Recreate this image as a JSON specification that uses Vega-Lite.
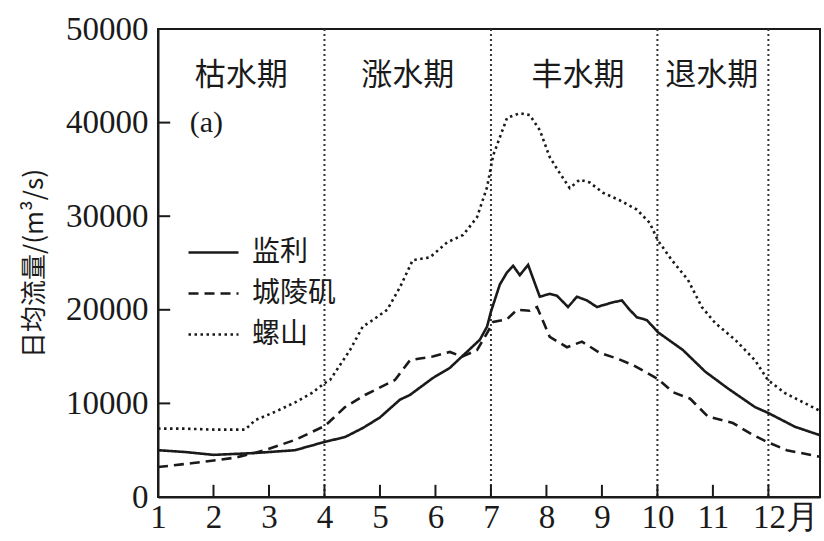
{
  "$schema": "https://vega.github.io/schema/vega-lite/v6.json",
  "width": 662,
  "height": 468,
  "autosize": {"type": "none"},
  "padding": {"left": 158, "top": 29, "right": 4, "bottom": 44},
  "background": "white",
  "config": {
    "view": {"stroke": "#1a1a1a", "strokeWidth": 2},
    "axis": {
      "domainColor": "#1a1a1a", "domainWidth": 2, "ticks": false,
      "labelColor": "#1a1a1a", "labelFont": "Liberation Serif", "labelFontSize": 33, "grid": false
    }
  },
  "datasets": {
    "flow": [
      {"station": "监利", "m": 1.0, "q": 5000}, {"station": "监利", "m": 1.5, "q": 4800}, {"station": "监利", "m": 2.0, "q": 4500},
      {"station": "监利", "m": 2.75, "q": 4700}, {"station": "监利", "m": 3.47, "q": 5000}, {"station": "监利", "m": 4.01, "q": 5900},
      {"station": "监利", "m": 4.37, "q": 6400}, {"station": "监利", "m": 4.7, "q": 7400}, {"station": "监利", "m": 5.0, "q": 8500},
      {"station": "监利", "m": 5.36, "q": 10400}, {"station": "监利", "m": 5.54, "q": 10900}, {"station": "监利", "m": 5.95, "q": 12700},
      {"station": "监利", "m": 6.26, "q": 13800}, {"station": "监利", "m": 6.44, "q": 14800}, {"station": "监利", "m": 6.8, "q": 16800},
      {"station": "监利", "m": 6.93, "q": 18200}, {"station": "监利", "m": 7.0, "q": 19800}, {"station": "监利", "m": 7.16, "q": 22700},
      {"station": "监利", "m": 7.29, "q": 24000}, {"station": "监利", "m": 7.4, "q": 24700}, {"station": "监利", "m": 7.52, "q": 23700},
      {"station": "监利", "m": 7.67, "q": 24800}, {"station": "监利", "m": 7.75, "q": 23500}, {"station": "监利", "m": 7.88, "q": 21400},
      {"station": "监利", "m": 8.06, "q": 21700}, {"station": "监利", "m": 8.19, "q": 21500}, {"station": "监利", "m": 8.39, "q": 20300},
      {"station": "监利", "m": 8.55, "q": 21400}, {"station": "监利", "m": 8.73, "q": 21000}, {"station": "监利", "m": 8.91, "q": 20300},
      {"station": "监利", "m": 9.2, "q": 20800}, {"station": "监利", "m": 9.36, "q": 21000}, {"station": "监利", "m": 9.5, "q": 20000},
      {"station": "监利", "m": 9.63, "q": 19200}, {"station": "监利", "m": 9.81, "q": 18900}, {"station": "监利", "m": 10.01, "q": 17600},
      {"station": "监利", "m": 10.46, "q": 15700}, {"station": "监利", "m": 10.86, "q": 13400}, {"station": "监利", "m": 11.27, "q": 11600},
      {"station": "监利", "m": 11.76, "q": 9600}, {"station": "监利", "m": 11.99, "q": 9000}, {"station": "监利", "m": 12.48, "q": 7500},
      {"station": "监利", "m": 12.93, "q": 6600},
      {"station": "城陵矶", "m": 1.0, "q": 3200}, {"station": "城陵矶", "m": 1.6, "q": 3600}, {"station": "城陵矶", "m": 2.39, "q": 4200},
      {"station": "城陵矶", "m": 2.93, "q": 5000}, {"station": "城陵矶", "m": 3.47, "q": 6100}, {"station": "城陵矶", "m": 4.01, "q": 7600},
      {"station": "城陵矶", "m": 4.37, "q": 9600}, {"station": "城陵矶", "m": 4.73, "q": 10900}, {"station": "城陵矶", "m": 5.27, "q": 12500},
      {"station": "城陵矶", "m": 5.54, "q": 14600}, {"station": "城陵矶", "m": 5.72, "q": 14800}, {"station": "城陵矶", "m": 5.95, "q": 15000},
      {"station": "城陵矶", "m": 6.26, "q": 15500}, {"station": "城陵矶", "m": 6.48, "q": 15000}, {"station": "城陵矶", "m": 6.75, "q": 15700},
      {"station": "城陵矶", "m": 6.93, "q": 17500}, {"station": "城陵矶", "m": 7.04, "q": 18700}, {"station": "城陵矶", "m": 7.29, "q": 19000},
      {"station": "城陵矶", "m": 7.47, "q": 20000}, {"station": "城陵矶", "m": 7.7, "q": 19900}, {"station": "城陵矶", "m": 7.83, "q": 20300},
      {"station": "城陵矶", "m": 8.06, "q": 17100}, {"station": "城陵矶", "m": 8.37, "q": 16000}, {"station": "城陵矶", "m": 8.64, "q": 16600},
      {"station": "城陵矶", "m": 8.96, "q": 15400}, {"station": "城陵矶", "m": 9.27, "q": 14800}, {"station": "城陵矶", "m": 9.56, "q": 14100},
      {"station": "城陵矶", "m": 9.77, "q": 13400}, {"station": "城陵矶", "m": 10.01, "q": 12600}, {"station": "城陵矶", "m": 10.28, "q": 11200},
      {"station": "城陵矶", "m": 10.59, "q": 10500}, {"station": "城陵矶", "m": 10.91, "q": 8600}, {"station": "城陵矶", "m": 11.36, "q": 7900},
      {"station": "城陵矶", "m": 11.7, "q": 6700}, {"station": "城陵矶", "m": 11.97, "q": 5900}, {"station": "城陵矶", "m": 12.33, "q": 5000},
      {"station": "城陵矶", "m": 12.93, "q": 4300},
      {"station": "螺山", "m": 1.0, "q": 7300}, {"station": "螺山", "m": 1.5, "q": 7300}, {"station": "螺山", "m": 2.0, "q": 7200},
      {"station": "螺山", "m": 2.57, "q": 7200}, {"station": "螺山", "m": 2.75, "q": 8200}, {"station": "螺山", "m": 3.11, "q": 9100},
      {"station": "螺山", "m": 3.47, "q": 10100}, {"station": "螺山", "m": 3.77, "q": 11100}, {"station": "螺山", "m": 4.01, "q": 12200},
      {"station": "螺山", "m": 4.1, "q": 12500}, {"station": "螺山", "m": 4.46, "q": 15700}, {"station": "螺山", "m": 4.69, "q": 18200},
      {"station": "螺山", "m": 4.87, "q": 18900}, {"station": "螺山", "m": 5.13, "q": 20000}, {"station": "螺山", "m": 5.36, "q": 22400},
      {"station": "螺山", "m": 5.59, "q": 25300}, {"station": "螺山", "m": 5.9, "q": 25600}, {"station": "螺山", "m": 6.21, "q": 27200},
      {"station": "螺山", "m": 6.5, "q": 28000}, {"station": "螺山", "m": 6.75, "q": 29900}, {"station": "螺山", "m": 6.93, "q": 33100},
      {"station": "螺山", "m": 7.04, "q": 36500}, {"station": "螺山", "m": 7.29, "q": 40500}, {"station": "螺山", "m": 7.52, "q": 41000},
      {"station": "螺山", "m": 7.7, "q": 40800}, {"station": "螺山", "m": 7.88, "q": 39200}, {"station": "螺山", "m": 8.06, "q": 36300},
      {"station": "螺山", "m": 8.24, "q": 34600}, {"station": "螺山", "m": 8.42, "q": 33000}, {"station": "螺山", "m": 8.6, "q": 33900},
      {"station": "螺山", "m": 8.78, "q": 33600}, {"station": "螺山", "m": 9.02, "q": 32500}, {"station": "螺山", "m": 9.32, "q": 31700},
      {"station": "螺山", "m": 9.63, "q": 30700}, {"station": "螺山", "m": 9.86, "q": 29300}, {"station": "螺山", "m": 10.01, "q": 27400},
      {"station": "螺山", "m": 10.26, "q": 25300}, {"station": "螺山", "m": 10.55, "q": 23200}, {"station": "螺山", "m": 10.8, "q": 20300},
      {"station": "螺山", "m": 11.04, "q": 18600}, {"station": "螺山", "m": 11.4, "q": 16800}, {"station": "螺山", "m": 11.76, "q": 14600},
      {"station": "螺山", "m": 11.99, "q": 12500}, {"station": "螺山", "m": 12.3, "q": 11100}, {"station": "螺山", "m": 12.93, "q": 9200}
    ],
    "dividers": [{"m": 4}, {"m": 7}, {"m": 10}, {"m": 12}],
    "xticks": [{"m": 2}, {"m": 3}, {"m": 4}, {"m": 5}, {"m": 6}, {"m": 7}, {"m": 8}, {"m": 9}, {"m": 10}, {"m": 11}, {"m": 12}],
    "yticks": [{"q": 10000}, {"q": 20000}, {"q": 30000}, {"q": 40000}],
    "periods": [
      {"label": "枯水期", "m": 2.5, "q": 45000},
      {"label": "涨水期", "m": 5.5, "q": 45000},
      {"label": "丰水期", "m": 8.57, "q": 45000},
      {"label": "退水期", "m": 10.98, "q": 45000}
    ],
    "tags": [{"label": "(a)", "m": 1.87, "q": 40000}]
  },
  "layer": [
    {
      "data": {"name": "dividers"},
      "mark": {"type": "rule", "color": "#333", "strokeWidth": 2, "strokeDash": [2, 3]},
      "encoding": {
        "x": {
          "field": "m", "type": "quantitative",
          "scale": {"domain": [1, 12.93], "nice": false, "zero": false},
          "axis": {
            "values": [1, 2, 3, 4, 5, 6, 7, 8, 9, 10, 11, 12], "format": "d",
            "title": null, "labelPadding": 4,
            "labelExpr": "datum.value == 12 ? '12月' : datum.label",
            "labelOffset": {"condition": {"test": "datum.value == 12", "value": 17}, "value": 0},
            "labelFlush": false, "labelOverlap": false
          }
        }
      }
    },
    {
      "data": {"name": "xticks"},
      "mark": {"type": "rule", "color": "#1a1a1a", "strokeWidth": 2},
      "encoding": {
        "x": {"field": "m", "type": "quantitative"},
        "y": {"datum": 0, "type": "quantitative"},
        "y2": {"datum": 1300}
      }
    },
    {
      "data": {"name": "yticks"},
      "mark": {"type": "rule", "color": "#1a1a1a", "strokeWidth": 2},
      "encoding": {
        "y": {"field": "q", "type": "quantitative"},
        "x": {"datum": 1, "type": "quantitative"},
        "x2": {"datum": 1.22}
      }
    },
    {
      "data": {"name": "flow"},
      "mark": {"type": "line", "color": "#1a1a1a", "strokeWidth": 2.6},
      "encoding": {
        "x": {"field": "m", "type": "quantitative"},
        "y": {
          "field": "q", "type": "quantitative",
          "scale": {"domain": [0, 50000], "nice": false},
          "axis": {
            "values": [0, 10000, 20000, 30000, 40000, 50000], "format": "d",
            "labelPadding": 10,
            "title": "日均流量/(m³/s)", "titleFont": "Noto Sans CJK SC", "titleFontSize": 26,
            "titleFontWeight": "normal", "titleColor": "#1a1a1a", "titlePadding": 18,
            "labelOverlap": false
          }
        },
        "strokeDash": {
          "field": "station", "type": "nominal",
          "scale": {"domain": ["监利", "城陵矶", "螺山"], "range": [[1, 0], [10, 6], [2.5, 3.5]]},
          "legend": {
            "orient": "none", "legendX": 29, "legendY": 197, "title": null,
            "symbolType": "stroke", "symbolSize": 2500, "symbolStrokeWidth": 2.6,
            "symbolStrokeColor": "#1a1a1a", "labelFont": "Noto Sans CJK SC", "labelFontSize": 28,
            "labelColor": "#1a1a1a", "rowPadding": 0, "labelOffset": 12
          }
        }
      }
    },
    {
      "data": {"name": "periods"},
      "mark": {"type": "text", "font": "Noto Sans CJK SC", "fontSize": 31, "color": "#1a1a1a", "baseline": "middle"},
      "encoding": {
        "x": {"field": "m", "type": "quantitative"},
        "y": {"field": "q", "type": "quantitative"},
        "text": {"field": "label"}
      }
    },
    {
      "data": {"name": "tags"},
      "mark": {"type": "text", "font": "Liberation Serif", "fontSize": 30, "color": "#1a1a1a", "baseline": "middle"},
      "encoding": {
        "x": {"field": "m", "type": "quantitative"},
        "y": {"field": "q", "type": "quantitative"},
        "text": {"field": "label"}
      }
    }
  ]
}
